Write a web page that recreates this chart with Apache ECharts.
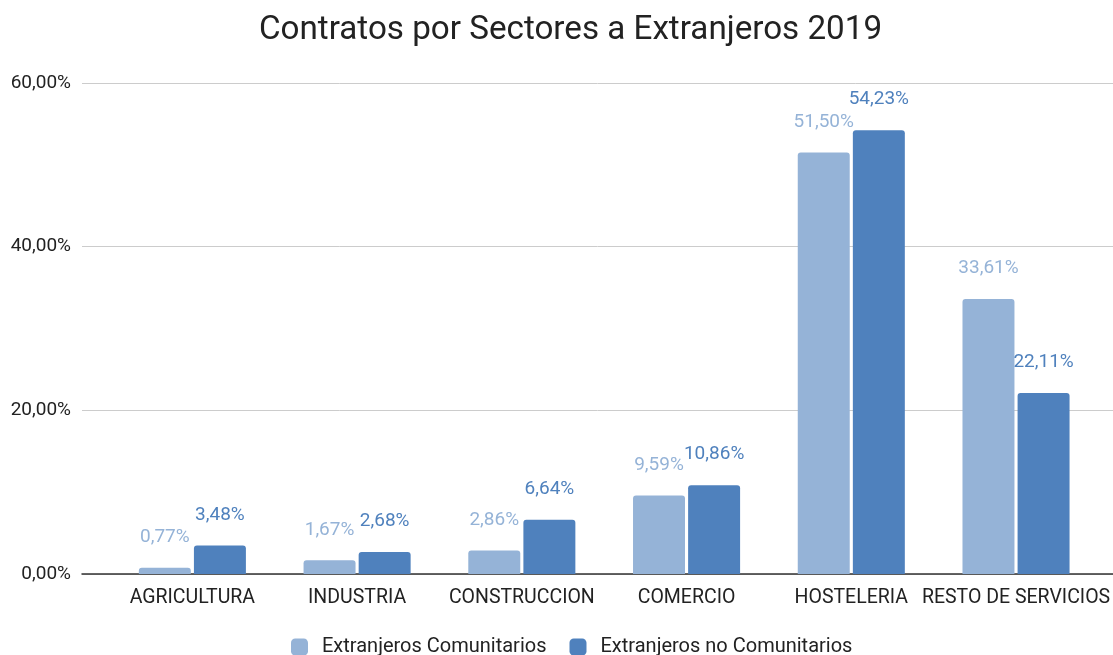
<!DOCTYPE html>
<html><head><meta charset="utf-8">
<script src="https://cdn.jsdelivr.net/npm/echarts@6/dist/echarts.min.js"></script>
<style>html,body{margin:0;padding:0;background:#fff}#c{width:1113px;height:655px}</style>
</head><body><div id="c"></div>
<script>
const categories = ['AGRICULTURA','INDUSTRIA','CONSTRUCCION','COMERCIO','HOSTELERIA','RESTO DE SERVICIOS'];
const comunitarios = [0.77, 1.67, 2.86, 9.59, 51.50, 33.61];
const noComunitarios = [3.48, 2.68, 6.64, 10.86, 54.23, 22.11];
const seriesNames = ['Extranjeros Comunitarios','Extranjeros no Comunitarios'];
const yTicks = [0, 20, 40, 60];

const fmt = v => v.toFixed(2).replace('.', ',') + '%';
const FONT = 'Roboto';
const chart = echarts.init(document.getElementById('c'), null, {renderer:'canvas'});
chart.setOption({
  backgroundColor:'#fff',
  animation:false,
  textStyle:{fontFamily:FONT},
  title:{text:'Contratos por Sectores a Extranjeros 2019', left:254, top:9,
    textStyle:{fontFamily:FONT, fontSize:33.2, fontWeight:'normal', color:'#222'}},
  legend:{top:632, left:286, itemWidth:17, itemHeight:17, itemGap:23,
    icon:'roundRect',
    textStyle:{fontFamily:FONT, fontSize:20, color:'#222', padding:[0,0,0,9]},
    data:seriesNames},
  grid:[
    {left:82, right:0, top:83, bottom:81},
    {left:110, right:13, top:83, bottom:81}
  ],
  xAxis:[
    {type:'category', gridIndex:0, data:categories, axisLine:{lineStyle:{color:'#333', width:1.5}},
     axisTick:{show:false}, axisLabel:{show:false}},
    {type:'category', gridIndex:1, data:categories, axisLine:{show:false}, axisTick:{show:false},
     axisLabel:{fontFamily:FONT, fontSize:19.5, color:'#222', margin:14, interval:0}}
  ],
  yAxis:[
    {type:'value', gridIndex:0, min:yTicks[0], max:yTicks[yTicks.length-1], interval:20,
     axisLine:{show:false}, axisTick:{show:false},
     splitLine:{lineStyle:{color:'#ccc', width:1}},
     axisLabel:{fontFamily:FONT, fontSize:19, color:'#222', margin:11, formatter:fmt}},
    {type:'value', gridIndex:1, min:yTicks[0], max:yTicks[yTicks.length-1], interval:20, show:false,
     splitLine:{show:false}}
  ],
  series:[
    {name:seriesNames[0], type:'bar', xAxisIndex:1, yAxisIndex:1, data:comunitarios,
     itemStyle:{color:'#95b3d7', borderRadius:[3,3,0,0]}, barGap:'6%', barCategoryGap:'35%',
     label:{show:true, position:'top', distance:21, formatter:p=>fmt(p.value),
       fontFamily:FONT, fontSize:19, color:'#95b3d7'}},
    {name:seriesNames[1], type:'bar', xAxisIndex:1, yAxisIndex:1, data:noComunitarios,
     itemStyle:{color:'#4f81bd', borderRadius:[3,3,0,0]}, barGap:'6%', barCategoryGap:'35%',
     label:{show:true, position:'top', distance:21, formatter:p=>fmt(p.value),
       fontFamily:FONT, fontSize:19, color:'#4f81bd'}}
  ]
});
</script></body></html>
